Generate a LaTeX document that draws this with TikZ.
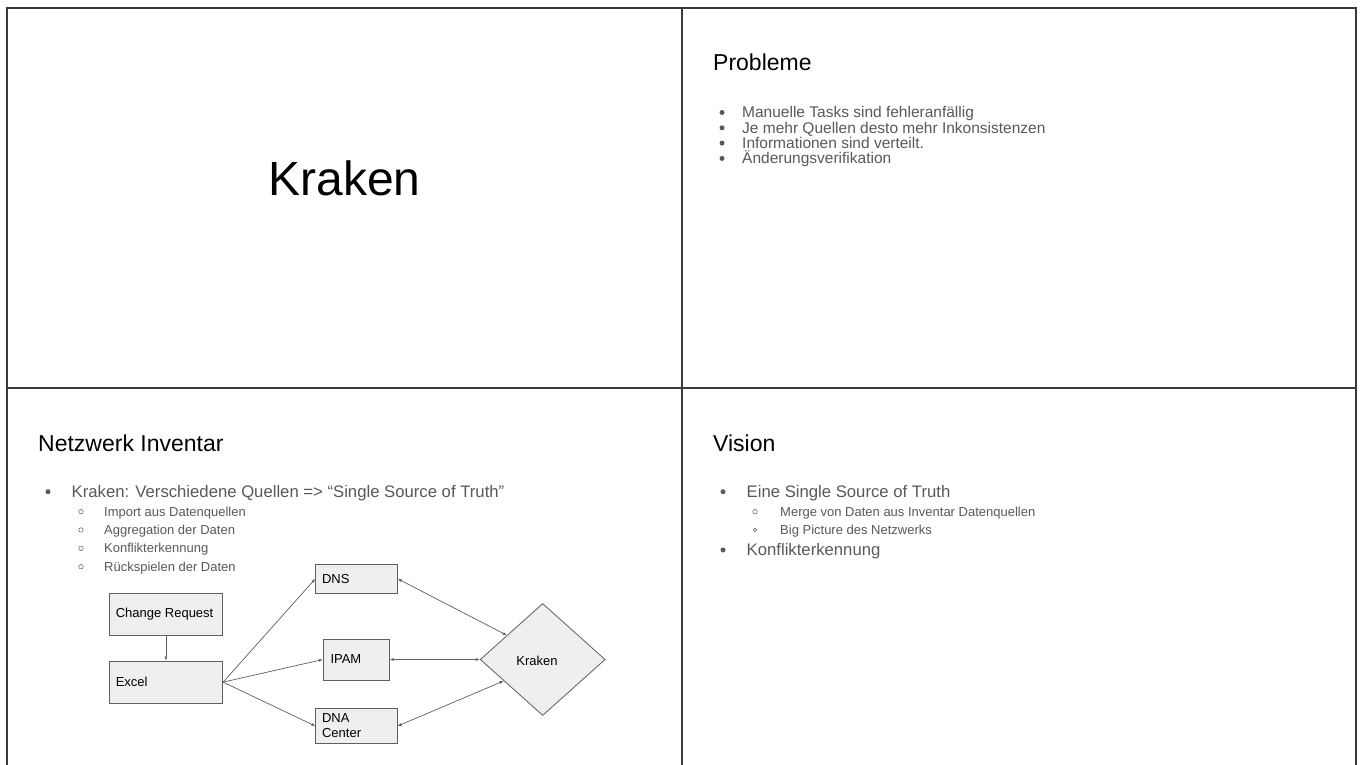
\documentclass[tikz,border=0pt]{standalone}
\usepackage{fontspec}
\setmainfont{Liberation Sans}
\usetikzlibrary{shapes.geometric,arrows.meta,calc}
\definecolor{txtgray}{HTML}{595959}
\definecolor{boxfill}{HTML}{EFEFEF}
\definecolor{slideframe}{HTML}{3A3A3A}
\definecolor{linegray}{HTML}{5F5F5F}
\newcommand{\fsz}[1]{\fontsize{#1}{#1}\selectfont}

\begin{document}
\begin{tikzpicture}[x=1pt,y=-1pt,
  slide/.style={draw=slideframe,line width=1.6pt},
  title/.style={anchor=base west,inner sep=0,font=\fsz{23}},
  bul/.style={anchor=base west,inner sep=0,text=txtgray,font=\fsz{16.7}},
  pbul/.style={anchor=base west,inner sep=0,text=txtgray,font=\fsz{15.5}},
  subbul/.style={anchor=base west,inner sep=0,text=txtgray,font=\fsz{13}},
  dot/.style={circle,fill=txtgray,inner sep=0,minimum size=5pt},
  ring/.style={circle,draw=txtgray,line width=0.5pt,inner sep=0,minimum size=4.5pt},
  smallring/.style={circle,draw=txtgray,line width=0.5pt,inner sep=0,minimum size=3.5pt},
  box/.style={draw=linegray,fill=boxfill,line width=0.8pt,inner sep=0},
  lbl/.style={anchor=west,inner sep=0,font=\fsz{13}},
  conn/.style={draw=linegray,line width=0.7pt},
  tip/.style={-{Latex[length=4pt,width=3pt]}},
  tipboth/.style={{Latex[length=4pt,width=3pt]}-{Latex[length=4pt,width=3pt]}},
]
\useasboundingbox (0,0) rectangle (1363,765);
\clip (0,0) rectangle (1363,765);
\fill[white] (0,0) rectangle (1363,765);

% four slide frames
\draw[slide] (7,8) rectangle (682,388);
\draw[slide] (682,8) rectangle (1356,388);
\draw[slide] (7,388) rectangle (682,768);
\draw[slide] (682,388) rectangle (1356,768);

% title slide
\node[anchor=base,inner sep=0,font=\fsz{48}] (ttl) at (344.5,196) {Kraken};

% Probleme
\node[title] (probT) at (713,71) {Probleme};
\node[dot] (pd1) at (722,112.5) {};
\node[pbul] (pb1) at (742,117.9) {Manuelle Tasks sind fehleranfällig};
\node[dot] (pd2) at (722,127.8) {};
\node[pbul] (pb2) at (742,133.2) {Je mehr Quellen desto mehr Inkonsistenzen};
\node[dot] (pd3) at (722,143.1) {};
\node[pbul] (pb3) at (742,148.5) {Informationen sind verteilt.};
\node[dot] (pd4) at (722,158.4) {};
\node[pbul] (pb4) at (742,163.8) {Änderungsverifikation};

% Netzwerk Inventar
\node[title] (netT) at (38,451) {Netzwerk Inventar};
\node[dot] (nd1) at (48,491.7) {};
\node[bul] (nb1) at (71.5,497.5) {Kraken: Verschiedene Quellen => “Single Source of Truth”};
\node[ring] (nr1) at (81,511.7) {};
\node[subbul] (ns1) at (104,516.2) {Import aus Datenquellen};
\node[ring] (nr2) at (81,530) {};
\node[subbul] (ns2) at (104,534.5) {Aggregation der Daten};
\node[ring] (nr3) at (81,548.3) {};
\node[subbul] (ns3) at (104,552.8) {Konflikterkennung};
\node[ring] (nr4) at (81,566.7) {};
\node[subbul] (ns4) at (104,571.2) {Rückspielen der Daten};

% Vision
\node[title] (visT) at (713,451) {Vision};
\node[dot] (vd1) at (723,491.7) {};
\node[bul] (vb1) at (746.5,497.5) {Eine Single Source of Truth};
\node[ring] (vr1) at (755,511.7) {};
\node[subbul] (vs1) at (780,516.2) {Merge von Daten aus Inventar Datenquellen};
\node[smallring] (vr2) at (755,530) {};
\node[subbul] (vs2) at (780,534.5) {Big Picture des Netzwerks};
\node[dot] (vd2) at (723,550) {};
\node[bul] (vb2) at (746.5,555.8) {Konflikterkennung};

% inventory flow diagram
\node[box,minimum width=113.7pt,minimum height=42pt] (cr) at (165.85,614.3) {};
\node[lbl] (crL) at ($(cr.west)+(7,0)$) {Change Request};
\node[box,minimum width=113.7pt,minimum height=42.3pt] (excel) at (165.85,682.15) {};
\node[lbl] (excelL) at ($(excel.west)+(7,0)$) {Excel};
\node[box,minimum width=81.6pt,minimum height=29pt] (dns) at (356.5,578.8) {};
\node[lbl] (dnsL) at ($(dns.west)+(6.6,0)$) {DNS};
\node[box,minimum width=66pt,minimum height=41pt] (ipam) at (356.3,659.5) {};
\node[lbl] (ipamL) at ($(ipam.west)+(7.4,0)$) {IPAM};
\node[box,minimum width=81.6pt,minimum height=34.6pt] (dna) at (356.5,726) {};
\node[lbl,align=left,font=\fontsize{13}{15}\selectfont] (dnaL) at ($(dna.west)+(6.6,0)$) {DNA\\Center};
\node[diamond,draw=linegray,fill=boxfill,line width=0.8pt,inner sep=0,
      minimum width=125pt,minimum height=112pt] (kraken) at (542.7,659.5) {};
\node[inner sep=0,font=\fsz{13}] (krakenL) at (537,660.5) {Kraken};

\draw[conn,tip] (cr.south) -- (excel.north);
\draw[conn,tip] (excel.east) -- (dns.west);
\draw[conn,tip] (excel.east) -- (ipam.west);
\draw[conn,tip] (excel.east) -- (dna.west);
\draw[conn,tipboth] (dns.east) -- ($(kraken.west)!0.43!(kraken.north)$);
\draw[conn,tipboth] (ipam.east) -- (kraken.west);
\draw[conn,tipboth] (dna.east) -- ($(kraken.west)!0.38!(kraken.south)$);
\end{tikzpicture}
\end{document}
